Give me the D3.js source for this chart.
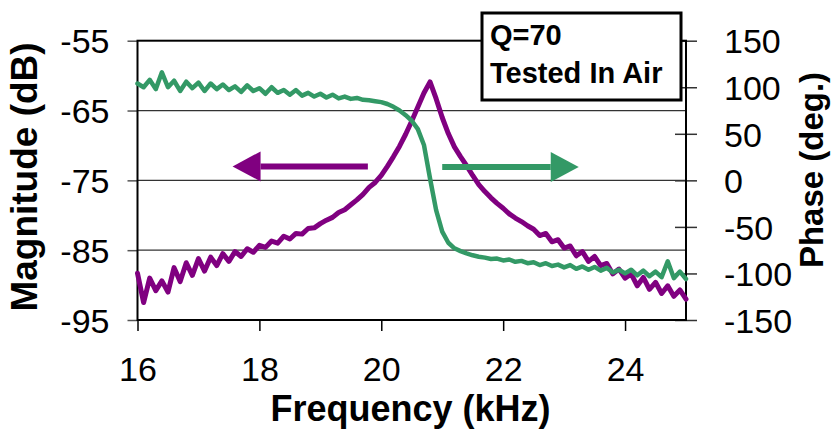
<!DOCTYPE html>
<html>
<head>
<meta charset="utf-8">
<script src="https://cdn.jsdelivr.net/npm/d3@7"></script>
<style>
  body { margin: 0; background: #fff; }
  text { font-family: "Liberation Sans", Arial, sans-serif; }
</style>
</head>
<body>
<svg id="chart" width="837" height="429"></svg>
<script>
// sweep settings (kHz)
var freqStart = 16, freqStep = 0.1;

// magnitude in dB, one value per 0.1 kHz from 16.0 to 25.0
var magnitude = [
  -88.3, -92.5, -89.0, -90.8, -89.4, -91.0, -87.5, -89.5, -86.8, -88.6,
  -86.2, -88.0, -86.0, -87.2, -85.5, -86.6, -85.2, -85.9, -84.8, -85.3,
  -84.3, -84.6, -83.7, -84.0, -83.0, -83.4, -82.6, -82.7, -81.9, -81.8,
  -81.2, -80.7, -80.3, -79.6, -79.2, -78.5, -77.8, -77.0, -76.0, -75.3,
  -74.3, -73.0, -71.6, -70.1, -68.4, -66.5, -64.5, -62.5, -60.9, -63.3,
  -66.0, -68.3, -70.2, -71.6, -72.9, -74.3, -75.6, -76.6, -77.5, -78.3,
  -79.0, -79.8, -80.4, -80.9, -81.5, -82.0, -82.9, -82.6, -83.8, -83.5,
  -84.7, -84.4, -85.8, -85.2, -86.6, -85.9, -87.2, -86.9, -88.4, -87.7,
  -89.0, -88.4, -90.1, -88.9, -90.6, -89.6, -91.2, -90.1, -91.6, -90.7,
  -92.0
];

// phase in degrees, same sweep
var phase = [
  104, 100, 108, 98, 116, 100, 107, 96, 106, 99,
  105, 96, 104, 98, 103, 97, 101, 95, 102, 96,
  99, 93, 100, 94, 97, 92, 97, 91, 94, 90,
  93, 89, 92, 88, 90, 87.5, 88.5, 86.5, 86, 85,
  84, 82, 79, 75, 70, 64, 55, 38, 2, -32,
  -55, -67, -73, -76, -78.5, -80.5, -82, -83, -84.5, -84,
  -86, -85, -87.5, -86.5, -89, -88, -91, -89, -92, -90.5,
  -93.5, -91, -95, -92.5, -96, -93, -97, -94, -99, -96,
  -100, -96, -102, -97, -103, -98, -104, -87, -105, -98,
  -106
];

var freqTicks = [16, 18, 20, 22, 24];
var magTicks = [-55, -65, -75, -85, -95];
var phaseTicks = [150, 100, 50, 0, -50, -100, -150];

// arrows: [from kHz, to kHz, at dB]
var magArrow = [19.78, 17.56, -73.0];
var phaseArrow = [21.0, 23.24, -73.1];

var legendLines = ["Q=70", "Tested In Air"];

var svg = d3.select("#chart");
var pLeft = 137.5, pRight = 686, pTop = 40.7, pBottom = 320;
var plain = function(d) { return String(d); };  // keep hyphen-minus like the original

var x = d3.scaleLinear().domain([16, 25]).range([pLeft, pRight]);
var yMag = d3.scaleLinear().domain([-95, -55]).range([pBottom, pTop]);
var yPh = d3.scaleLinear().domain([-150, 150]).range([pBottom, pTop]);

var freq = magnitude.map(function(d, i) { return freqStart + i * freqStep; });

// gridlines
svg.append("g").selectAll("line")
  .data(magTicks.slice(1, 4)).enter().append("line")
  .attr("x1", pLeft).attr("x2", pRight)
  .attr("y1", function(d) { return yMag(d); })
  .attr("y2", function(d) { return yMag(d); })
  .attr("stroke", "#333").attr("stroke-width", 1.2);

// left axis
var gl = svg.append("g").attr("transform", "translate(" + pLeft + ",0)")
  .call(d3.axisLeft(yMag).tickValues(magTicks).tickSize(10).tickPadding(18).tickFormat(plain));
gl.select(".domain").remove();
gl.selectAll(".tick line").attr("stroke", "#555").attr("stroke-width", 1.5);
gl.selectAll(".tick text").attr("font-size", 34).attr("fill", "#000")
  .attr("font-family", "Liberation Sans, Arial, sans-serif").attr("dy", "0.36em");

// bottom axis
var gb = svg.append("g").attr("transform", "translate(0," + pBottom + ")")
  .call(d3.axisBottom(x).tickValues(freqTicks).tickSize(11).tickPadding(0).tickFormat(plain));
gb.select(".domain").remove();
gb.selectAll(".tick line").attr("stroke", "#000").attr("stroke-width", 1.5);
gb.selectAll(".tick text").attr("font-size", 34).attr("fill", "#000")
  .attr("font-family", "Liberation Sans, Arial, sans-serif")
  .attr("y", 61).attr("dy", 0);

// right axis (ticks cross the axis)
var gr = svg.append("g").attr("transform", "translate(" + pRight + ",0)")
  .call(d3.axisRight(yPh).tickValues(phaseTicks).tickSize(11).tickPadding(27).tickFormat(plain));
gr.select(".domain").remove();
gr.selectAll(".tick line").attr("x1", -11).attr("stroke", "#333").attr("stroke-width", 1.5);
gr.selectAll(".tick text").attr("font-size", 34).attr("fill", "#000")
  .attr("font-family", "Liberation Sans, Arial, sans-serif").attr("dy", "0.36em");

// plot frame
svg.append("rect")
  .attr("x", pLeft).attr("y", pTop)
  .attr("width", pRight - pLeft).attr("height", pBottom - pTop)
  .attr("fill", "none").attr("stroke", "#000").attr("stroke-width", 2);

// curves
var magLine = d3.line()
  .x(function(d, i) { return x(freq[i]); })
  .y(function(d) { return yMag(d); });
var phLine = d3.line()
  .x(function(d, i) { return x(freq[i]); })
  .y(function(d) { return yPh(d); });

svg.append("path").datum(magnitude)
  .attr("d", magLine).attr("fill", "none")
  .attr("stroke", "#800080").attr("stroke-width", 5)
  .attr("stroke-linejoin", "round").attr("stroke-linecap", "round");

svg.append("path").datum(phase)
  .attr("d", phLine).attr("fill", "none")
  .attr("stroke", "#339966").attr("stroke-width", 4.5)
  .attr("stroke-linejoin", "round").attr("stroke-linecap", "round");

// arrows
function arrow(a, color) {
  var x0 = x(a[0]), x1 = x(a[1]), yy = yMag(a[2]);
  var dir = x1 > x0 ? 1 : -1, head = 28, half = 15;
  svg.append("line")
    .attr("x1", x0).attr("x2", x1 - dir * head)
    .attr("y1", yy).attr("y2", yy)
    .attr("stroke", color).attr("stroke-width", 6);
  svg.append("path")
    .attr("d", "M" + x1 + "," + yy + "L" + (x1 - dir * head) + "," + (yy - half) +
      "L" + (x1 - dir * head) + "," + (yy + half) + "Z")
    .attr("fill", color);
}
arrow(magArrow, "#800080");
arrow(phaseArrow, "#339966");

// legend box
svg.append("rect")
  .attr("x", 482).attr("y", 13).attr("width", 199).attr("height", 87)
  .attr("fill", "#fff").attr("stroke", "#000").attr("stroke-width", 3);
svg.selectAll(".legend").data(legendLines).enter().append("text")
  .attr("x", 490).attr("y", function(d, i) { return 45 + i * 38.3; })
  .attr("font-size", 29).attr("font-weight", "bold").text(function(d) { return d; });

// axis titles
svg.append("text")
  .attr("transform", "translate(" + 410.5 + ",421)")
  .attr("text-anchor", "middle").attr("font-size", 36).attr("font-weight", "bold")
  .text("Frequency (kHz)");
svg.append("text")
  .attr("transform", "translate(37,177) rotate(-90)")
  .attr("text-anchor", "middle").attr("font-size", 37).attr("font-weight", "bold")
  .text("Magnitude (dB)");
svg.append("text")
  .attr("transform", "translate(823,170) rotate(-90)")
  .attr("text-anchor", "middle").attr("font-size", 33).attr("font-weight", "bold")
  .text("Phase (deg.)");
</script>
</body>
</html>
